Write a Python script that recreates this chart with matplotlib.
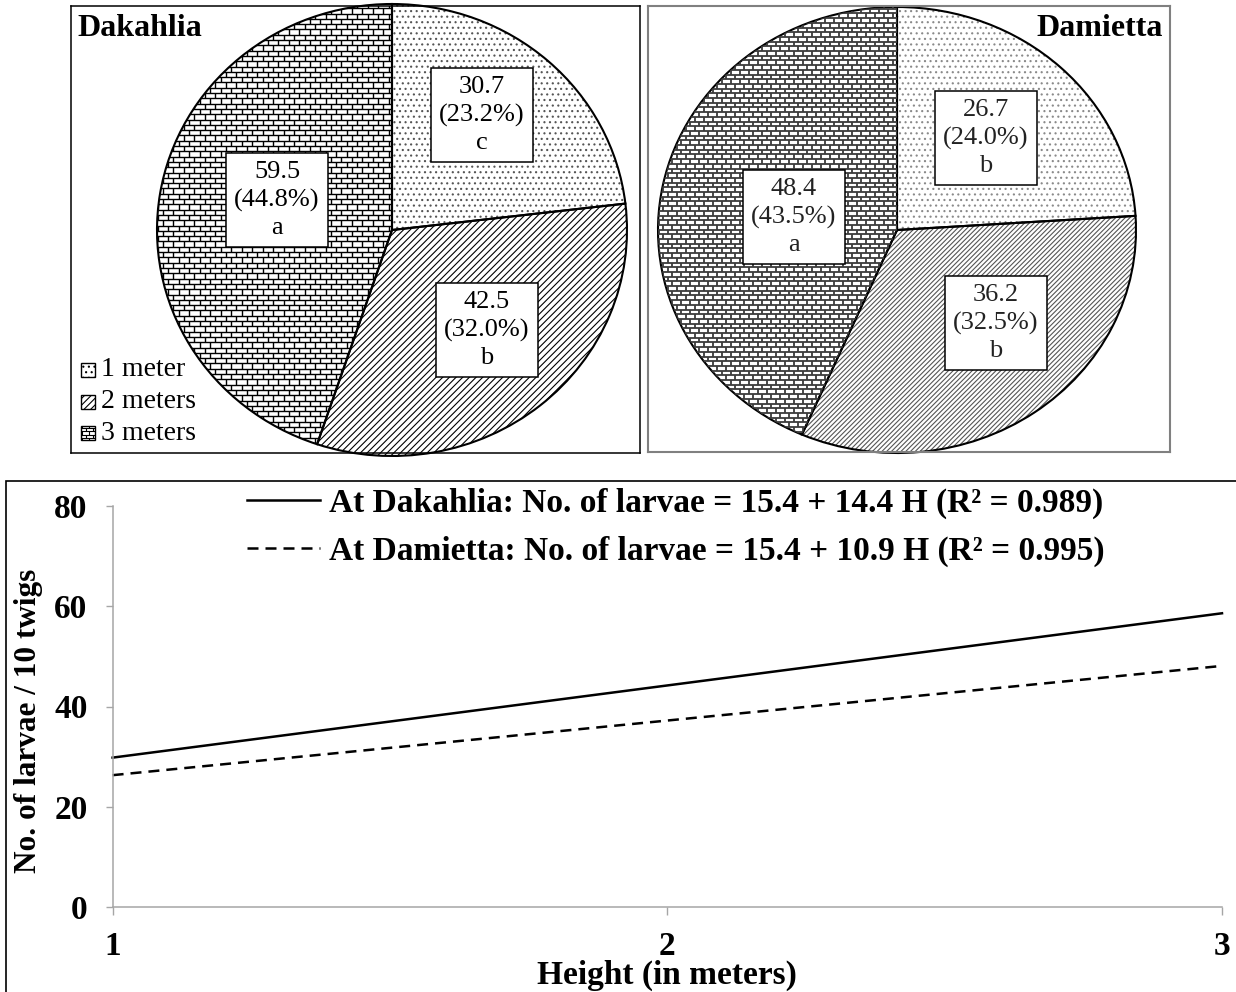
import numpy as np
import matplotlib.pyplot as plt
from matplotlib.collections import LineCollection
from matplotlib.patches import Rectangle

plt.rcParams['font.family'] = ['Liberation Serif', 'DejaVu Serif']
plt.rcParams['hatch.linewidth'] = 0.8

# mean larvae per 10 twigs at each sampling height
height_labels = ['1 meter', '2 meters', '3 meters']
dak_means = [30.7, 42.5, 59.5]
dak_pct = ['23.2%', '32.0%', '44.8%']
dak_letters = ['c', 'b', 'a']
dam_means = [26.7, 36.2, 48.4]
dam_pct = ['24.0%', '32.5%', '43.5%']
dam_letters = ['b', 'b', 'a']

# fitted regression lines (No. of larvae vs height)
height_m = [1, 2, 3]
dak_fit = [29.8, 44.2, 58.6]
dam_fit = [26.3, 37.2, 48.1]
dak_eq = 'At Dakahlia: No. of larvae = 15.4 + 14.4 H (R² = 0.989)'
dam_eq = 'At Damietta: No. of larvae = 15.4 + 10.9 H (R² = 0.995)'

W, H = 1236, 992
fig = plt.figure(figsize=(W / 100, H / 100), dpi=100)


def pie_panel(box, center, radius):
    # box = (left, top, right, bottom) in pixels, center/radius in pixels
    x0, y0, x1, y1 = box
    ax = fig.add_axes([x0 / W, (H - y1) / H, (x1 - x0) / W, (y1 - y0) / H])
    cx, cy = center
    rx, ry = radius
    lims = ((x0 - cx) / rx, (x1 - cx) / rx), ((cy - y1) / ry, (cy - y0) / ry)
    to_data = lambda px, py: ((px - cx) / rx, (cy - py) / ry)
    return ax, lims, to_data


def brick_fill(ax, clip, rx, ry, color, row_px=5.3, brick_px=10.5, lw=1.0):
    dy = row_px / ry
    dx = brick_px / rx
    segs = []
    for i, y in enumerate(np.arange(-1.2, 1.2, dy)):
        segs.append([(-1.6, y), (1.6, y)])
        off = (i % 2) * dx / 2
        for x in np.arange(-1.6 + off, 1.6, dx):
            segs.append([(x, y), (x, y + dy)])
    lc = LineCollection(segs, colors=color, linewidths=lw)
    ax.add_collection(lc, autolim=False)
    lc.set_clip_path(clip)


def draw_pie(ax, lims, values, hatch_colors, radius, dot_hatch, line_hatch,
             row_px, brick_px, brick_lw):
    wedges, _ = ax.pie(values, startangle=90, counterclock=False, frame=True,
                       wedgeprops=dict(linewidth=0, facecolor='white'))
    for w, c in zip(wedges, hatch_colors):
        w.set_edgecolor(c)
    wedges[0].set_hatch(dot_hatch)
    wedges[1].set_hatch(line_hatch)
    brick_fill(ax, wedges[2], radius[0], radius[1], hatch_colors[2], row_px, brick_px, brick_lw)
    ax.pie(values, startangle=90, counterclock=False, frame=True,
           wedgeprops=dict(edgecolor='black', linewidth=1.5, fill=False))
    ax.set_aspect('auto')
    ax.set_xlim(*lims[0])
    ax.set_ylim(*lims[1])
    ax.set_xticks([])
    ax.set_yticks([])
    return wedges


def value_labels(ax, to_data, values, pcts, letters, spots, color='black'):
    for v, p, l, (px, py) in zip(values, pcts, letters, spots):
        x, y = to_data(px, py)
        ax.text(x, y, f'{v}\n({p})\n{l}', ha='center', va='center', fontsize=19,
                color=color, linespacing=1.32,
                bbox=dict(boxstyle='square,pad=0.3', fc='white', ec='black', lw=1.1))


# Dakahlia pie
dak_r = (235, 226)
ax1, lims1, px1 = pie_panel((71, 6, 640, 453), (392, 230), dak_r)
draw_pie(ax1, lims1, dak_means, ['#555555', 'black', 'black'], dak_r, '...', '/////',
         5.3, 10.5, 1.0)
value_labels(ax1, px1, dak_means, dak_pct, dak_letters,
             [(482, 115), (487, 330), (277, 200)])
for s in ax1.spines.values():
    s.set_color('black')
    s.set_linewidth(1.1)
ax1.text(*px1(77, 29), 'Dakahlia', fontsize=23, fontweight='bold', ha='left', va='center')

# legend squares for the three heights
for i, lab in enumerate(height_labels):
    cy_px = 370 + i * 31.5
    x0, y0 = px1(81, cy_px + 7)
    x1, y1 = px1(95, cy_px - 7)
    sq = Rectangle((x0, y0), x1 - x0, y1 - y0, fc='white', ec='black', lw=1.0,
                   hatch=['...', '/////', None][i])
    ax1.add_patch(sq)
    if i == 2:
        brick_fill(ax1, sq, dak_r[0], dak_r[1], 'black', row_px=3.5, brick_px=7, lw=0.8)
    ax1.text(*px1(101, cy_px), lab, fontsize=20, ha='left', va='center')

# Damietta pie
dam_r = (239, 223)
ax2, lims2, px2 = pie_panel((648, 6, 1170, 452), (897, 230), dam_r)
draw_pie(ax2, lims2, dam_means, ['#8a8a8a', '#555555', '#3c3c3c'], dam_r, '...', '///////',
         4.7, 9.0, 1.3)
value_labels(ax2, px2, dam_means, dam_pct, dam_letters,
             [(986, 138), (996, 323), (794, 217)], color='#222222')
for s in ax2.spines.values():
    s.set_color('#808080')
    s.set_linewidth(1.5)
ax2.text(*px2(1163, 29), 'Damietta', fontsize=23, fontweight='bold', ha='right', va='center')

# regression lines
fig.add_artist(Rectangle((6 / W, -0.02), 1.1, (H - 481) / H + 0.02, transform=fig.transFigure,
                         fill=False, ec='black', lw=1.2))
ax3 = fig.add_axes([112.6 / W, (H - 907) / H, (1222 - 112.6) / W, 401 / H])
ax3.plot(height_m, dak_fit, color='black', lw=1.8, label=dak_eq, clip_on=False)
ax3.plot(height_m, dam_fit, color='black', lw=1.8, ls=(0, (4.4, 2.8)), label=dam_eq, clip_on=False)
ax3.set_xlim(1, 3)
ax3.set_ylim(0, 80)
ax3.set_xticks([1, 2, 3])
ax3.set_yticks([0, 20, 40, 60, 80])
for side in ['top', 'right']:
    ax3.spines[side].set_visible(False)
for side in ['left', 'bottom']:
    ax3.spines[side].set_color('#a6a6a6')
    ax3.spines[side].set_linewidth(1.1)
ax3.tick_params(axis='both', colors='#a6a6a6', labelcolor='black', width=1.0, labelsize=24)
ax3.tick_params(axis='y', length=5, pad=13)
ax3.tick_params(axis='x', length=6, pad=11)
for t in ax3.get_xticklabels() + ax3.get_yticklabels():
    t.set_fontweight('bold')
ax3.set_ylabel('No. of larvae / 10 twigs', fontsize=22.5, fontweight='bold')
ax3.yaxis.set_label_coords(-0.063, 0.464)
ax3.set_xlabel('Height (in meters)', fontsize=24, fontweight='bold')
ax3.xaxis.set_label_coords(0.5, -0.132)
ax3.legend(loc='upper left', bbox_to_anchor=(247 / W, (H - 488) / H),
           bbox_transform=fig.transFigure, frameon=False,
           prop=dict(weight='bold', size=24), handlelength=2.2, handletextpad=0.27,
           labelspacing=0.5, borderpad=0, borderaxespad=0)

fig.savefig('out.png', dpi=100)
